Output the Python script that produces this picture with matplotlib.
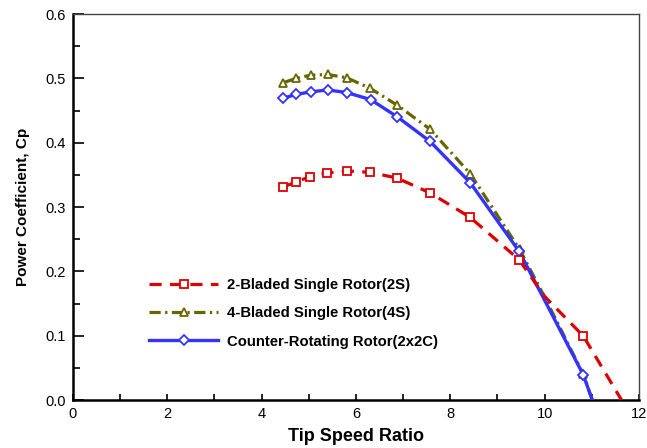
import matplotlib.pyplot as plt
import matplotlib as mpl
from matplotlib.ticker import MultipleLocator

mpl.rcParams["font.family"] = ["Liberation Sans", "DejaVu Sans"]

# tip speed ratio at the measured points (last entry: where the curve meets Cp = 0)
tsr_2s = [4.45, 4.73, 5.02, 5.38, 5.81, 6.30, 6.87, 7.57, 8.42, 9.46, 10.0, 10.82, 11.63]
cp_2s = [0.331, 0.339, 0.347, 0.353, 0.356, 0.354, 0.345, 0.322, 0.284, 0.218, 0.161, 0.0995, 0.0]
mark_2s = [0, 1, 2, 3, 4, 5, 6, 7, 8, 9, 11]

tsr_4s = [4.45, 4.73, 5.04, 5.40, 5.80, 6.29, 6.88, 7.57, 8.42, 9.47, 10.0, 10.82, 11.01]
cp_4s = [0.493, 0.500, 0.505, 0.506, 0.501, 0.485, 0.458, 0.421, 0.352, 0.234, 0.160, 0.040, 0.0]
mark_4s = [0, 1, 2, 3, 4, 5, 6, 7, 8, 9, 11]

tsr_cr = [4.45, 4.73, 5.04, 5.40, 5.80, 6.31, 6.88, 7.57, 8.42, 9.46, 10.0, 10.82, 11.01]
cp_cr = [0.469, 0.475, 0.479, 0.482, 0.478, 0.467, 0.440, 0.402, 0.338, 0.231, 0.155, 0.039, 0.0]
mark_cr = [0, 1, 2, 3, 4, 5, 6, 7, 8, 9, 11]

fig = plt.figure(figsize=(6.47, 4.48), dpi=100)
ax = fig.add_axes([0.1128, 0.1071, 0.8748, 0.8616])

ax.plot(tsr_4s, cp_4s, color="#666600", lw=2.3, dashes=(3.5, 1.4, 0.7, 1.4),
        marker="^", ms=6, mfc="white", mec="#666600", mew=1.3, markevery=mark_4s,
        label="4-Bladed Single Rotor(4S)", zorder=2)
ax.plot(tsr_cr, cp_cr, color="#3333ff", lw=2.4, ls="-",
        marker="D", ms=5, mfc="white", mec="#3333ff", mew=1.3, markevery=mark_cr,
        label="Counter-Rotating Rotor(2x2C)", zorder=3)
ax.plot(tsr_2s, cp_2s, color="#dd0000", lw=2.3, dashes=(3.8, 2.6),
        marker="s", ms=5.5, mfc="white", mec="#dd0000", mew=1.3, markevery=mark_2s,
        label="2-Bladed Single Rotor(2S)", zorder=4)

ax.set_xlim(0, 12)
ax.set_ylim(0, 0.6)
ax.xaxis.set_major_locator(MultipleLocator(2))
ax.xaxis.set_minor_locator(MultipleLocator(1))
ax.yaxis.set_major_locator(MultipleLocator(0.1))
ax.yaxis.set_minor_locator(MultipleLocator(0.05))
ax.yaxis.set_major_formatter(mpl.ticker.FormatStrFormatter("%.1f"))
ax.tick_params(which="both", direction="in", labelsize=10.5, width=1.2, colors="black")
ax.tick_params(axis="x", which="both", length=4.5, pad=5)
ax.tick_params(axis="y", which="major", length=8, pad=5)
ax.tick_params(axis="y", which="minor", length=5)

for s in ["left", "bottom"]:
    ax.spines[s].set_linewidth(1.8)
for s in ["top", "right"]:
    ax.spines[s].set_linewidth(1.0)
    ax.spines[s].set_color("#444444")

ax.set_xlabel("Tip Speed Ratio", fontsize=13, fontweight="bold", labelpad=5)
ax.set_ylabel("Power Coefficient, Cp", fontsize=11, fontweight="bold", labelpad=11)

h, l = ax.get_legend_handles_labels()
order = [2, 0, 1]
leg = ax.legend([h[i] for i in order], [l[i] for i in order], loc="upper left",
                bbox_to_anchor=(0.11, 0.35), frameon=False, handlelength=4.7,
                handletextpad=0.6, labelspacing=0.95, prop={"weight": "bold", "size": 10.7})

fig.savefig("out.png", dpi=100)
